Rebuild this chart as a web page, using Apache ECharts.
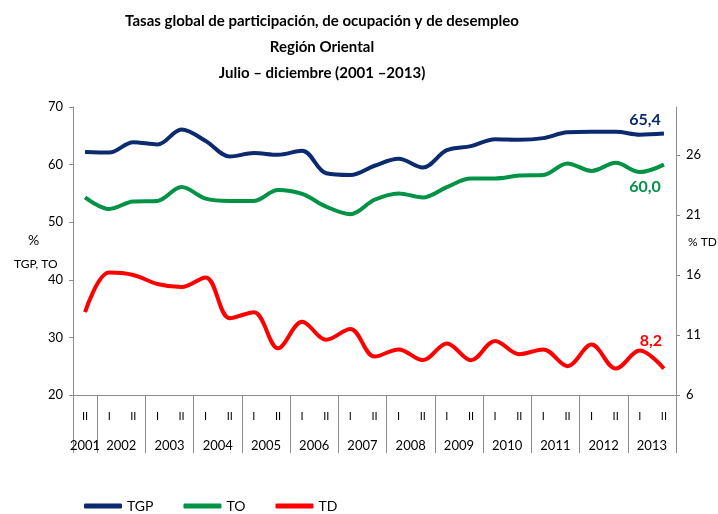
<!DOCTYPE html>
<html>
<head>
<meta charset="utf-8">
<script src="https://cdn.jsdelivr.net/npm/echarts@6/dist/echarts.min.js"></script>
<style>
  html, body { margin: 0; padding: 0; background: #fff; }
  #main { width: 718px; height: 514px; }
</style>
</head>
<body>
<div id="main"></div>
<script>
// semestres: 2001 II ... 2013 II
var semestres = ['II','I','II','I','II','I','II','I','II','I','II','I','II','I','II','I','II','I','II','I','II','I','II','I','II'];
var anios = ['2001','2002','2003','2004','2005','2006','2007','2008','2009','2010','2011','2012','2013'];

var tgp = [62.2,62.1,63.9,63.5,66.1,64.1,61.4,62.0,61.7,62.4,58.5,58.2,59.8,61.0,59.5,62.5,63.2,64.4,64.3,64.6,65.6,65.7,65.7,65.2,65.4];
var to  = [54.3,52.3,53.6,53.7,56.1,54.1,53.7,53.7,55.6,54.9,52.7,51.4,53.9,55.0,54.3,56.1,57.6,57.6,58.1,58.2,60.2,58.9,60.3,58.7,60.0];
var td  = [12.9,16.2,16.0,15.25,15.0,15.8,12.4,12.9,9.9,12.1,10.6,11.5,9.2,9.8,8.9,10.3,8.9,10.5,9.4,9.8,8.4,10.2,8.2,9.7,8.2];

var azul = '#0c2a6e', verde = '#009245', rojo = '#ff0000';
var gris = '#8c8c8c';
var fuente = 'Lato, "Open Sans", sans-serif';

// eje de años: 51 posiciones (medios semestres), sin boundaryGap
var ejeAnios = [];
for (var i = 0; i <= 50; i++) { ejeAnios.push(''); }
ejeAnios[1] = anios[0];
for (var k = 1; k < anios.length; k++) { ejeAnios[4 * k] = anios[k]; }

function fmt(v) { return v.toFixed(1).replace('.', ','); }
function etiquetaFinal(color, offset) {
    return {
        show: true, distance: 0, offset: offset,
        align: 'center', verticalAlign: 'middle',
        formatter: function (p) { return fmt(p.value); },
        color: color, fontWeight: 'bold', fontSize: 16, fontFamily: fuente
    };
}

var myChart = echarts.init(document.getElementById('main'));
var option = {
    animation: false,
    title: {
        text: 'Tasas global de participación, de ocupación y de desempleo\nRegión Oriental\nJulio – diciembre (2001 –2013)',
        left: 317, top: 3, textAlign: 'center',
        textStyle: { fontFamily: fuente, fontWeight: 'bold', fontSize: 15, lineHeight: 26, color: '#000' }
    },
    legend: {
        left: 79, top: 494,
        itemWidth: 38, itemHeight: 5, itemGap: 30,
        icon: 'roundRect',
        textStyle: { fontFamily: fuente, fontSize: 14, color: '#000' },
        data: ['TGP', 'TO', 'TD']
    },
    grid: { left: 73, right: 42, top: 107, bottom: 119 },
    xAxis: [
        {
            type: 'category',
            data: semestres,
            boundaryGap: true,
            axisLine: { lineStyle: { color: gris, width: 1 } },
            axisTick: { interval: 0, length: 28, lineStyle: { color: gris } },
            axisLabel: { interval: 0, margin: 16, fontSize: 11, color: '#000', fontFamily: fuente }
        },
        {
            type: 'category',
            data: ejeAnios,
            boundaryGap: false,
            position: 'bottom',
            axisLine: { show: false },
            axisTick: {
                length: 58, lineStyle: { color: gris },
                interval: function (idx) { return idx === 0 || (idx - 2) % 4 === 0; }
            },
            axisLabel: {
                margin: 44, fontSize: 13, color: '#000', fontFamily: fuente,
                interval: function (idx) { return ejeAnios[idx] !== ''; }
            }
        }
    ],
    yAxis: [
        {
            type: 'value', min: 20, max: 70, interval: 10,
            splitLine: { show: false },
            axisLine: { show: true, lineStyle: { color: gris } },
            axisTick: { show: true, length: 4, lineStyle: { color: gris } },
            axisLabel: { fontSize: 13, color: '#000', fontFamily: fuente, margin: 10 }
        },
        {
            type: 'value', min: 6, max: 30, interval: 5,
            position: 'right',
            splitLine: { show: false },
            axisLine: { show: true, lineStyle: { color: gris } },
            axisTick: { show: true, length: 4, lineStyle: { color: gris } },
            axisLabel: {
                fontSize: 13, color: '#000', fontFamily: fuente, margin: 10,
                showMaxLabel: false
            }
        }
    ],
    series: [
        {
            name: 'TGP', type: 'line', smooth: 0.35, showSymbol: false,
            color: azul, lineStyle: { width: 4, color: azul },
            endLabel: etiquetaFinal(azul, [-19, -14]),
            data: tgp
        },
        {
            name: 'TO', type: 'line', smooth: 0.35, showSymbol: false,
            color: verde, lineStyle: { width: 4, color: verde },
            endLabel: etiquetaFinal(verde, [-19, 22]),
            data: to
        },
        {
            name: 'TD', type: 'line', yAxisIndex: 1, smooth: 0.35, showSymbol: false,
            color: rojo, lineStyle: { width: 4, color: rojo },
            endLabel: etiquetaFinal(rojo, [-13, -28]),
            data: td
        }
    ],
    graphic: [
        { type: 'text', left: 28, top: 233, style: { text: '%', fontSize: 14, fontFamily: fuente, fill: '#000' } },
        { type: 'text', left: 14, top: 258, style: { text: 'TGP, TO', fontSize: 12, fontFamily: fuente, fill: '#000' } },
        { type: 'text', left: 688, top: 236, style: { text: '% TD', fontSize: 12, fontFamily: fuente, fill: '#000' } }
    ]
};
myChart.setOption(option);
</script>
</body>
</html>
